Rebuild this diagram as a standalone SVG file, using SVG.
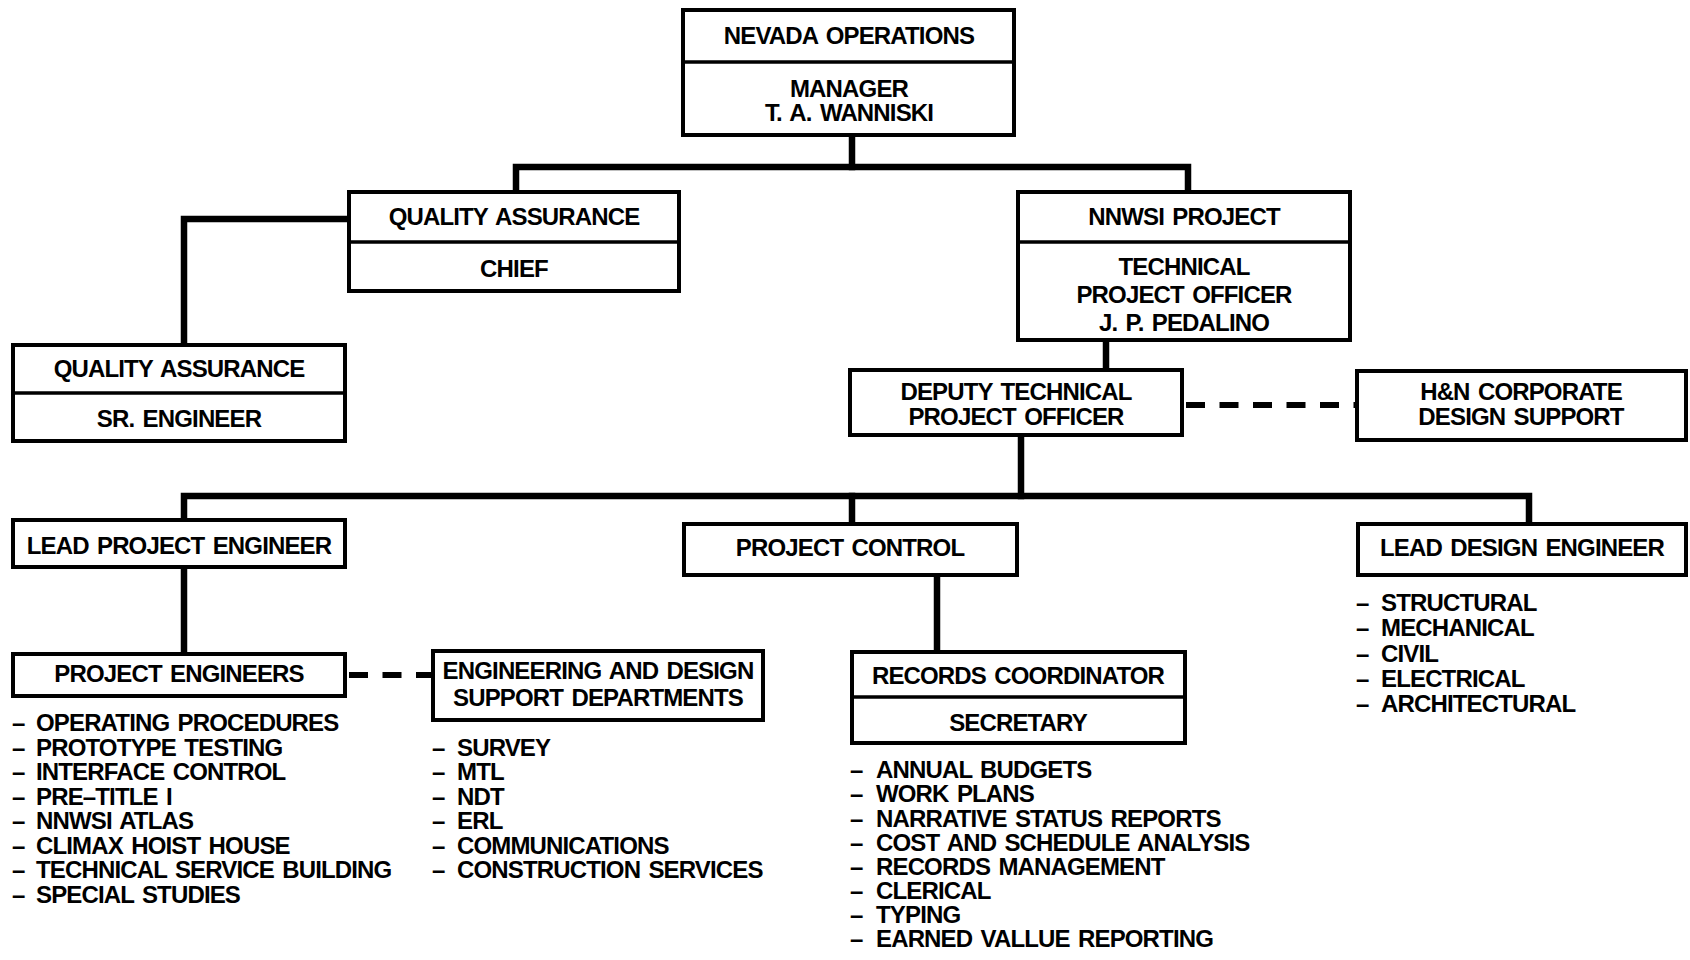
<svg xmlns="http://www.w3.org/2000/svg" width="1690" height="960" viewBox="0 0 1690 960">
  <style>
    .box { fill: #ffffff; stroke: #000000; stroke-width: 4; }
    .div { stroke: #000000; stroke-width: 3.5; fill: none; }
    .link { stroke: #000000; stroke-width: 6.5; fill: none; stroke-linecap: square; }
    .dash { stroke: #000000; stroke-width: 6; fill: none; stroke-dasharray: 19 14.5; }
    text { font-family: "Liberation Sans", Arial, sans-serif; font-weight: bold; font-size: 24px; letter-spacing: -0.85px; word-spacing: 2.5px; fill: #000000; }
    .c { text-anchor: middle; }
  </style>
  <rect width="1690" height="960" fill="#ffffff"/>

  <!-- reporting lines -->
  <g id="connectors">
    <polyline class="link" points="852,137 852,167"/>
    <polyline class="link" points="516,190 516,167 1188,167 1188,190"/>
    <polyline class="link" points="347,219 184,219 184,343"/>
    <polyline class="link" points="1106,342 1106,368"/>
    <polyline class="link" points="1021,437 1021,496"/>
    <polyline class="link" points="184,518 184,496 1529,496 1529,522"/>
    <polyline class="link" points="852,496 852,522"/>
    <polyline class="link" points="184,569 184,652"/>
    <polyline class="link" points="937,577 937,650"/>
    <line class="dash" x1="1186" y1="405" x2="1355" y2="405"/>
    <line class="dash" x1="349" y1="675" x2="431" y2="675"/>
  </g>

  <g id="nevada-operations">
    <rect class="box" x="683" y="10" width="331" height="125"/>
    <line class="div" x1="683" y1="62" x2="1014" y2="62"/>
    <text class="c" x="849" y="44">NEVADA OPERATIONS</text>
    <text class="c" x="849" y="97">MANAGER</text>
    <text class="c" x="849" y="121">T. A. WANNISKI</text>
  </g>

  <g id="qa-chief">
    <rect class="box" x="349" y="192" width="330" height="99"/>
    <line class="div" x1="349" y1="242" x2="679" y2="242"/>
    <text class="c" x="514" y="225">QUALITY ASSURANCE</text>
    <text class="c" x="514" y="277">CHIEF</text>
  </g>

  <g id="qa-sr-engineer">
    <rect class="box" x="13" y="345" width="332" height="96"/>
    <line class="div" x1="13" y1="393" x2="345" y2="393"/>
    <text class="c" x="179" y="377">QUALITY ASSURANCE</text>
    <text class="c" x="179" y="427">SR. ENGINEER</text>
  </g>

  <g id="nnwsi-project">
    <rect class="box" x="1018" y="192" width="332" height="148"/>
    <line class="div" x1="1018" y1="242" x2="1350" y2="242"/>
    <text class="c" x="1184" y="225">NNWSI PROJECT</text>
    <text class="c" x="1184" y="275">TECHNICAL</text>
    <text class="c" x="1184" y="303">PROJECT OFFICER</text>
    <text class="c" x="1184" y="331">J. P. PEDALINO</text>
  </g>

  <g id="deputy-tpo">
    <rect class="box" x="850" y="370" width="332" height="65"/>
    <text class="c" x="1016" y="400">DEPUTY TECHNICAL</text>
    <text class="c" x="1016" y="425">PROJECT OFFICER</text>
  </g>

  <g id="hn-corporate">
    <rect class="box" x="1357" y="371" width="329" height="69"/>
    <text class="c" x="1521" y="400">H&amp;N CORPORATE</text>
    <text class="c" x="1521" y="425">DESIGN SUPPORT</text>
  </g>

  <g id="lead-project-engineer">
    <rect class="box" x="13" y="520" width="332" height="47"/>
    <text class="c" x="179" y="554">LEAD PROJECT ENGINEER</text>
  </g>

  <g id="project-control">
    <rect class="box" x="684" y="524" width="333" height="51"/>
    <text class="c" x="850" y="556">PROJECT CONTROL</text>
  </g>

  <g id="lead-design-engineer">
    <rect class="box" x="1358" y="524" width="328" height="51"/>
    <text class="c" x="1522" y="556">LEAD DESIGN ENGINEER</text>
    <text><tspan x="1356" y="611">–</tspan><tspan x="1381" y="611">STRUCTURAL</tspan></text>
    <text><tspan x="1356" y="636">–</tspan><tspan x="1381" y="636">MECHANICAL</tspan></text>
    <text><tspan x="1356" y="662">–</tspan><tspan x="1381" y="662">CIVIL</tspan></text>
    <text><tspan x="1356" y="687">–</tspan><tspan x="1381" y="687">ELECTRICAL</tspan></text>
    <text><tspan x="1356" y="712">–</tspan><tspan x="1381" y="712">ARCHITECTURAL</tspan></text>
  </g>

  <g id="project-engineers">
    <rect class="box" x="13" y="654" width="332" height="42"/>
    <text class="c" x="179" y="682">PROJECT ENGINEERS</text>
    <text><tspan x="12" y="731">–</tspan><tspan x="36" y="731">OPERATING PROCEDURES</tspan></text>
    <text><tspan x="12" y="755.5">–</tspan><tspan x="36" y="755.5">PROTOTYPE TESTING</tspan></text>
    <text><tspan x="12" y="780">–</tspan><tspan x="36" y="780">INTERFACE CONTROL</tspan></text>
    <text><tspan x="12" y="804.5">–</tspan><tspan x="36" y="804.5">PRE–TITLE I</tspan></text>
    <text><tspan x="12" y="829">–</tspan><tspan x="36" y="829">NNWSI ATLAS</tspan></text>
    <text><tspan x="12" y="853.5">–</tspan><tspan x="36" y="853.5">CLIMAX HOIST HOUSE</tspan></text>
    <text><tspan x="12" y="878">–</tspan><tspan x="36" y="878">TECHNICAL SERVICE BUILDING</tspan></text>
    <text><tspan x="12" y="902.5">–</tspan><tspan x="36" y="902.5">SPECIAL STUDIES</tspan></text>
  </g>

  <g id="engineering-design-support">
    <rect class="box" x="433" y="651" width="330" height="69"/>
    <text class="c" x="598" y="679">ENGINEERING AND DESIGN</text>
    <text class="c" x="598" y="706">SUPPORT DEPARTMENTS</text>
    <text><tspan x="432" y="755.5">–</tspan><tspan x="457" y="755.5">SURVEY</tspan></text>
    <text><tspan x="432" y="780">–</tspan><tspan x="457" y="780">MTL</tspan></text>
    <text><tspan x="432" y="804.5">–</tspan><tspan x="457" y="804.5">NDT</tspan></text>
    <text><tspan x="432" y="829">–</tspan><tspan x="457" y="829">ERL</tspan></text>
    <text><tspan x="432" y="853.5">–</tspan><tspan x="457" y="853.5">COMMUNICATIONS</tspan></text>
    <text><tspan x="432" y="878">–</tspan><tspan x="457" y="878">CONSTRUCTION SERVICES</tspan></text>
  </g>

  <g id="records-coordinator">
    <rect class="box" x="852" y="652" width="333" height="91"/>
    <line class="div" x1="852" y1="697" x2="1185" y2="697"/>
    <text class="c" x="1018" y="684">RECORDS COORDINATOR</text>
    <text class="c" x="1018" y="731">SECRETARY</text>
    <text><tspan x="850" y="778">–</tspan><tspan x="876" y="778">ANNUAL BUDGETS</tspan></text>
    <text><tspan x="850" y="802">–</tspan><tspan x="876" y="802">WORK PLANS</tspan></text>
    <text><tspan x="850" y="826.5">–</tspan><tspan x="876" y="826.5">NARRATIVE STATUS REPORTS</tspan></text>
    <text><tspan x="850" y="850.5">–</tspan><tspan x="876" y="850.5">COST AND SCHEDULE ANALYSIS</tspan></text>
    <text><tspan x="850" y="875">–</tspan><tspan x="876" y="875">RECORDS MANAGEMENT</tspan></text>
    <text><tspan x="850" y="899">–</tspan><tspan x="876" y="899">CLERICAL</tspan></text>
    <text><tspan x="850" y="923">–</tspan><tspan x="876" y="923">TYPING</tspan></text>
    <text><tspan x="850" y="947">–</tspan><tspan x="876" y="947">EARNED VALLUE REPORTING</tspan></text>
  </g>
</svg>
